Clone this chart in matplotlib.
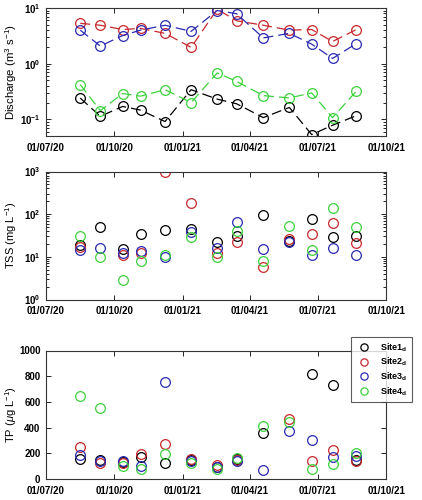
import numpy as np
import matplotlib
matplotlib.use("Agg")
import matplotlib.pyplot as plt
import matplotlib.dates as mdates
from matplotlib.ticker import FuncFormatter
from datetime import datetime

plt.rcParams["font.family"] = ["Liberation Sans", "DejaVu Sans"]
plt.rcParams["mathtext.fontset"] = "custom"
plt.rcParams["mathtext.rm"] = "Liberation Sans"
plt.rcParams["mathtext.it"] = "Liberation Sans:italic"
plt.rcParams["mathtext.bf"] = "Liberation Sans:bold"

# sampling dates
dates = ["2020-08-16", "2020-09-12", "2020-10-12", "2020-11-05", "2020-12-08",
         "2021-01-12", "2021-02-16", "2021-03-14", "2021-04-19", "2021-05-24",
         "2021-06-23", "2021-07-21", "2021-08-22"]
sites = ["Site1$_\\mathbf{d}$", "Site2$_\\mathbf{d}$", "Site3$_\\mathbf{d}$", "Site4$_\\mathbf{d}$"]
nan = np.nan

# discharge (m3/s)
q_site1 = [0.24, 0.113, 0.17, 0.146, 0.091, 0.34, 0.23, 0.19, 0.107, 0.163, 0.053, 0.078, 0.116]
q_site2 = [5.3, 4.9, 4.1, 4.3, 3.5, 1.96, 9.5, 5.9, 4.9, 4.0, 4.1, 2.5, 4.1]
q_site3 = [4.0, 2.07, 3.2, 4.0, 4.9, 3.8, 9.0, 7.9, 2.9, 3.5, 2.24, 1.24, 2.3]
q_site4 = [0.42, 0.143, 0.29, 0.26, 0.34, 0.2, 0.68, 0.48, 0.266, 0.242, 0.297, 0.107, 0.32]

# TSS (mg/L)
tss_site1 = [18.7, 50.3, 14.9, 35.2, 42.1, 46, 22, 30.5, 98, 24, 79, 28.9, 30.5]
tss_site2 = [17.3, nan, 10.9, 12, 980, 178, 12.6, 22, 5.9, 25.9, 34, 62.5, 20.9]
tss_site3 = [14.1, 16.2, 12.4, 13.8, 10, 38.4, 15.9, 64.9, 15.2, 22.4, 10.9, 16.2, 10.9]
tss_site4 = [30.5, 9.8, 2.94, 7.9, 11.3, 29.3, 10, 41.4, 7.9, 52.2, 14.3, 136, 48.7]

# TP (ug/L)
tp_site1 = [156, 150, 130, 174, 122, 148, 91, 153, 356, nan, 818, 730, 150]
tp_site2 = [249, 125, 127, 197, 270, 156, 112, 150, nan, 468, 138, 224, 138]
tp_site3 = [187, 140, 140, 101, 754, 140, 95, 138, 70, 374, 301, 174, 177]
tp_site4 = [647, 556, 101, 78, 195, 122, 81, 161, 411, 442, 76, 115, 200]

colors = ["black", "#c8282d", "#2a2ab4", "#3cd23c"]

x = [datetime.strptime(d, "%Y-%m-%d") for d in dates]


def log_fmt(v, pos):
    return "$\\mathbf{10^{%d}}$" % int(round(np.log10(v)))


def style_axis(ax):
    ax.set_xlim(datetime(2020, 7, 1), datetime(2021, 10, 1))
    ticks = [datetime(2020, 7, 1), datetime(2020, 10, 1), datetime(2021, 1, 1),
             datetime(2021, 4, 1), datetime(2021, 7, 1), datetime(2021, 10, 1)]
    ax.set_xticks(ticks)
    ax.xaxis.set_major_formatter(mdates.DateFormatter("%d/%m/%y"))
    ax.tick_params(which="both", direction="in", top=True, right=True,
                   labelsize=7, width=0.6)
    ax.tick_params(axis="x", pad=5)
    ax.tick_params(axis="y", pad=4)
    ax.tick_params(which="major", length=3.5)
    ax.tick_params(which="minor", length=2)
    ax.xaxis.set_minor_locator(plt.NullLocator())
    for lab in ax.get_xticklabels() + ax.get_yticklabels():
        lab.set_fontweight("bold")
    # right edge of the rotated label at ~17 px from the figure edge
    ax.yaxis.set_label_coords(-0.08, 0.5)
    for s in ax.spines.values():
        s.set_color("#333333")
        s.set_linewidth(0.8)


fig = plt.figure(figsize=(4.22, 5.0), dpi=100)
ax1 = fig.add_axes([0.109, 0.728, 0.806, 0.256])
ax2 = fig.add_axes([0.109, 0.401, 0.806, 0.256])
ax3 = fig.add_axes([0.109, 0.042, 0.806, 0.257])

# discharge
for vals, c in zip([q_site1, q_site2, q_site3, q_site4], colors):
    ax1.plot(x, vals, "--o", color=c, mfc="none", ms=7, mew=0.9, lw=0.9,
             dashes=(8, 4))
ax1.set_yscale("log")
ax1.set_ylim(0.05, 10)
ax1.yaxis.set_major_formatter(FuncFormatter(log_fmt))
ax1.set_ylabel("Discharge (m$^3$ s$^{-1}$)", fontsize=8.2)
style_axis(ax1)

# TSS
for vals, c in zip([tss_site1, tss_site2, tss_site3, tss_site4], colors):
    ax2.plot(x, vals, "o", color=c, mfc="none", ms=7, mew=0.9)
ax2.set_yscale("log")
ax2.set_ylim(1, 1000)
ax2.yaxis.set_major_formatter(FuncFormatter(log_fmt))
ax2.set_ylabel("TSS (mg L$^{-1}$)", fontsize=8)
style_axis(ax2)

# TP
for vals, c, lab in zip([tp_site1, tp_site2, tp_site3, tp_site4], colors, sites):
    ax3.plot(x, vals, "o", color=c, mfc="none", ms=7, mew=0.9, label=lab)
ax3.set_ylim(0, 1000)
ax3.set_yticks([0, 200, 400, 600, 800, 1000])
ax3.set_ylabel("TP ($\\mu$g L$^{-1}$)", fontsize=8)
style_axis(ax3)

leg = fig.legend(loc="upper right", bbox_to_anchor=(0.986, 0.336),
                 bbox_transform=fig.transFigure, frameon=True,
                 prop={"size": 6.5, "weight": "bold"},
                 fancybox=False, edgecolor="#333333", handletextpad=0.9,
                 handlelength=1.8, borderpad=0.5, labelspacing=0.25,
                 markerscale=0.75)
leg.get_frame().set_linewidth(0.8)
leg.set_zorder(10)

fig.savefig("out.png", dpi=100)
